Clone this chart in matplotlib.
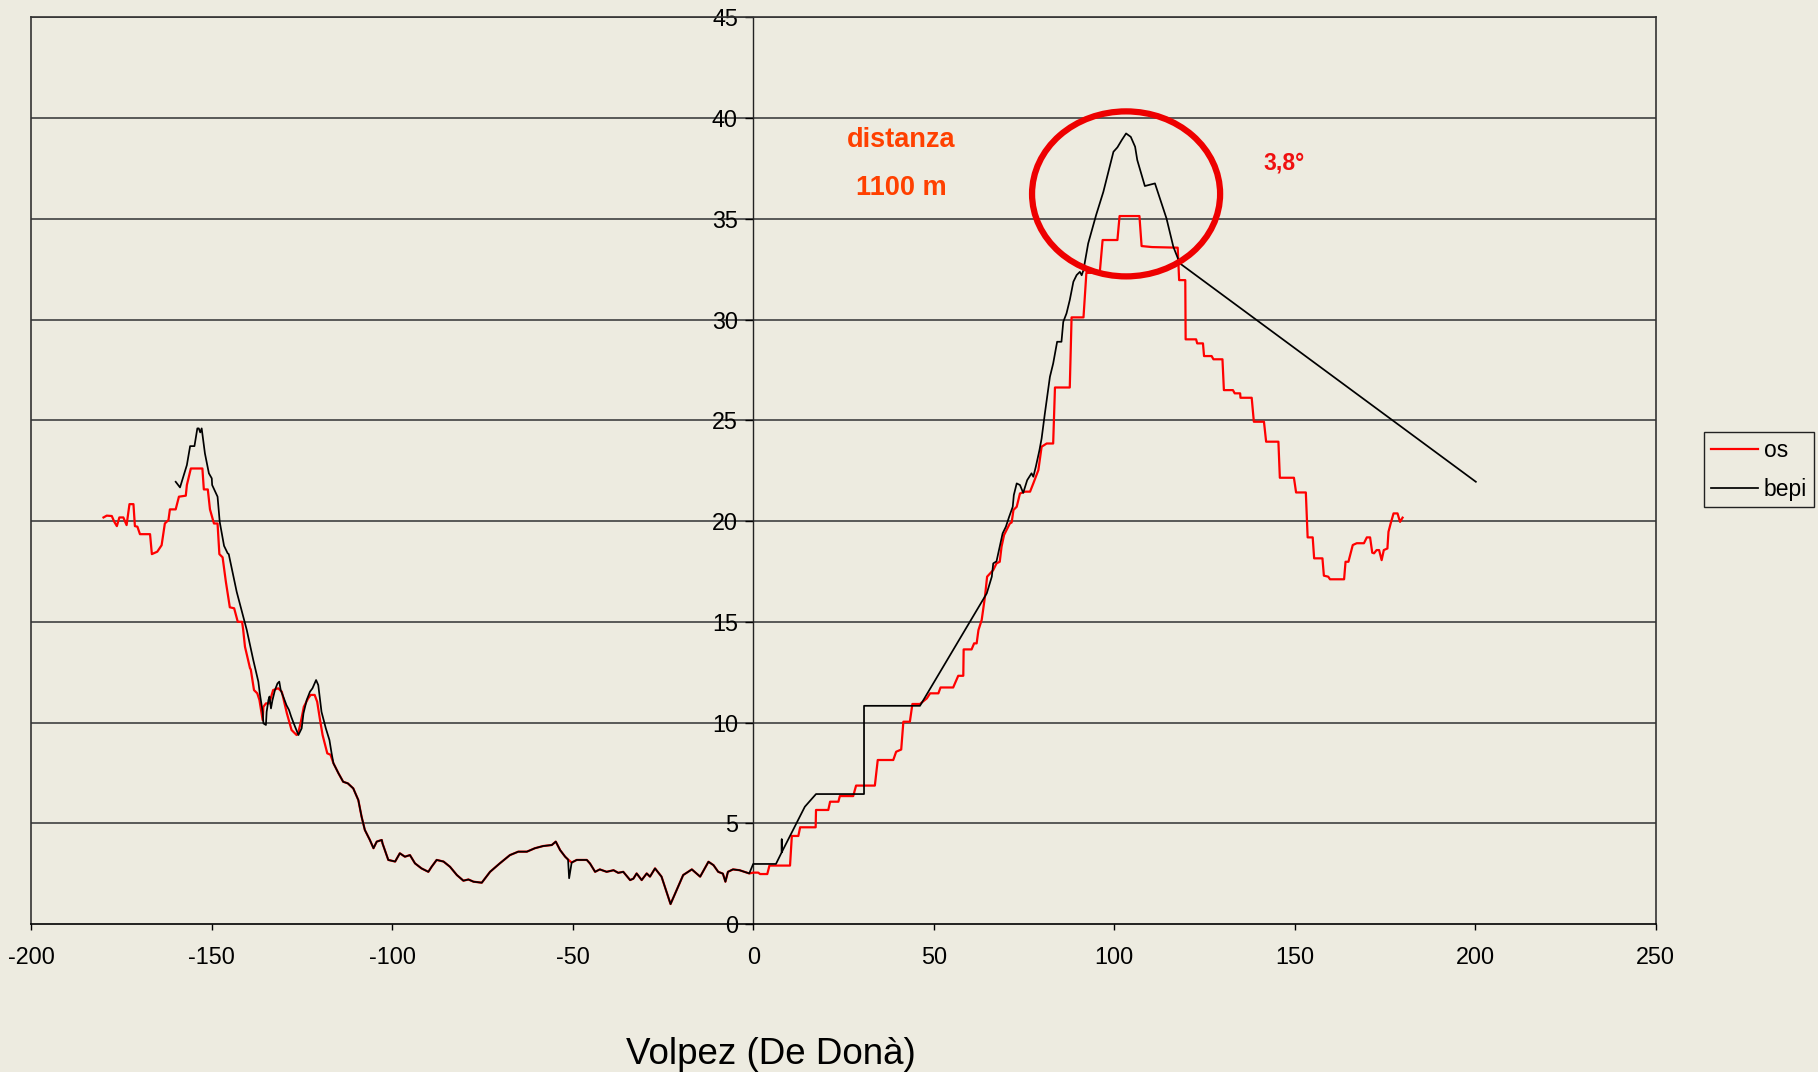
import numpy as np
import matplotlib
matplotlib.use("Agg")
import matplotlib.pyplot as plt
from matplotlib.patches import Ellipse

plt.rcParams['font.family'] = ['Liberation Sans', 'DejaVu Sans']
plt.rcParams['axes.unicode_minus'] = False

# ---------------- data ----------------
# "os" (red) - left hill
os_left_x = [-180.0, -179.1, -177.7, -177.0, -176.3, -175.6, -174.5, -173.6, -172.8, -171.7,
             -171.3, -170.6, -169.9, -167.1, -166.6, -165.1, -163.9, -163.0, -162.0, -161.6,
             -160.0, -159.1, -157.2, -156.9, -155.8, -152.6, -152.2, -151.1, -150.5, -149.4,
             -148.4, -147.9, -147.0, -146.1, -145.0, -143.8, -142.8, -141.6, -141.3, -140.8,
             -139.4, -139.2, -138.3, -137.4, -136.8, -135.9, -135.7, -135.0, -134.1, -133.0,
             -131.6, -130.6, -129.2, -127.9, -126.5, -126.1, -125.4, -124.5, -123.3, -122.6,
             -121.5, -120.8, -120.0, -119.3, -118.0, -117.1]
os_left_y = [20.18, 20.27, 20.25, 19.96, 19.75, 20.18, 20.18, 19.80, 20.84, 20.84,
             19.75, 19.72, 19.35, 19.35, 18.36, 18.48, 18.80, 19.88, 20.05, 20.58,
             20.58, 21.21, 21.26, 21.79, 22.61, 22.61, 21.57, 21.57, 20.58, 19.88,
             19.88, 18.36, 18.20, 16.99, 15.72, 15.67, 15.00, 15.00, 14.60, 13.76,
             12.69, 12.64, 11.61, 11.45, 11.12, 10.12, 10.78, 10.95, 10.95, 11.61,
             11.70, 11.53, 10.46, 9.63, 9.38, 9.46, 9.96, 10.78, 11.20, 11.37,
             11.37, 11.03, 10.12, 9.38, 8.47, 8.40]

# "bepi" (black) - left hill
bepi_left_x = [-160.0, -158.8, -157.9, -156.9, -156.0, -154.8, -154.0, -153.6, -153.2, -152.8,
               -151.9, -150.8, -150.0, -149.9, -148.4, -147.8, -146.6, -145.6, -145.3, -143.1,
               -140.3, -138.5, -137.1, -136.7, -135.9, -135.7, -135.0, -134.8, -134.3, -134.0,
               -133.6, -133.2, -132.5, -131.8, -131.3, -130.9, -130.2, -129.3, -128.6, -128.0,
               -127.3, -126.0, -125.1, -124.6, -123.7, -122.8, -122.1, -121.1, -120.5, -119.6,
               -118.4, -117.4, -116.8]
bepi_left_y = [21.95, 21.67, 22.20, 22.78, 23.72, 23.72, 24.60, 24.60, 24.40, 24.60,
               23.36, 22.37, 22.12, 21.79, 21.21, 19.96, 18.77, 18.40, 18.36, 16.49,
               14.59, 13.10, 12.03, 11.45, 10.53, 9.96, 9.88, 10.53, 11.12, 11.29,
               10.70, 11.10, 11.61, 11.94, 12.03, 11.61, 11.29, 10.86, 10.62, 10.29,
               9.96, 9.38, 9.71, 10.45, 11.12, 11.53, 11.70, 12.11, 11.86, 10.53,
               9.71, 9.13, 8.47]

# shared valley (both series nearly identical)
valley_x = [-116.3, -114.9, -113.6, -112.3, -110.8, -109.4, -108.5, -107.6, -106.2, -105.2,
            -104.3, -102.9, -102.7, -101.1, -99.2, -97.9, -96.5, -95.1, -93.7, -91.9,
            -90.0, -89.1, -87.7, -85.8, -84.0, -82.1, -80.3, -78.9, -77.5, -75.2,
            -72.9, -70.2, -67.4, -65.1, -62.7, -60.5, -58.2, -55.8, -54.7, -53.5,
            -52.1, -51.3]
valley_y = [7.98, 7.48, 7.06, 6.98, 6.73, 6.15, 5.33, 4.67, 4.17, 3.76,
            4.09, 4.17, 4.00, 3.18, 3.10, 3.51, 3.34, 3.42, 3.01, 2.76,
            2.59, 2.84, 3.18, 3.10, 2.84, 2.43, 2.15, 2.21, 2.10, 2.05,
            2.59, 3.01, 3.42, 3.59, 3.59, 3.76, 3.87, 3.92, 4.09, 3.67,
            3.34, 3.20]
valley2_x = [-50.3, -48.9, -46.1, -45.2, -43.8, -42.5, -40.6, -38.7, -37.4, -36.0,
             -34.1, -33.2, -32.3, -30.9, -29.5, -28.6, -27.2, -25.4, -22.9, -21.2,
             -19.4, -17.0, -14.7, -12.4, -11.0, -9.7, -8.4, -7.7, -7.0, -5.6,
             -3.8, -2.4, -1.1]
valley2_y = [3.05, 3.18, 3.18, 3.00, 2.59, 2.71, 2.59, 2.67, 2.54, 2.59,
             2.18, 2.25, 2.51, 2.18, 2.51, 2.35, 2.76, 2.35, 0.99, 1.69,
             2.43, 2.71, 2.35, 3.09, 2.92, 2.59, 2.50, 2.10, 2.59, 2.71,
             2.67, 2.59, 2.51]

# "os" (red) - right hill
os_right_x = [0.0, 1.4, 1.9, 3.9, 4.5, 10.2, 10.7, 12.5, 13.0, 17.3,
              17.4, 20.8, 21.3, 23.6, 24.0, 27.7, 28.5, 33.7, 34.5, 38.8,
              39.6, 41.0, 41.6, 43.4, 44.1, 46.2, 48.1, 49.0, 51.3, 51.9,
              55.4, 56.8, 58.2, 58.3, 60.5, 61.2, 61.9, 62.4, 63.3, 64.2,
              64.8, 66.5, 67.4, 68.3, 68.8, 69.5, 70.2, 71.1, 71.6, 72.1,
              73.0, 73.9, 75.3, 76.7, 77.6, 79.0, 79.9, 81.3, 83.1, 83.6,
              87.7, 88.2, 91.5, 92.3, 96.0, 96.8, 100.9, 101.5, 107.0, 107.6,
              110.5, 117.6, 118.0, 119.7, 119.8, 122.7, 123.0, 124.6, 124.9, 127.0,
              127.5, 130.0, 130.4, 132.9, 133.4, 134.9, 135.0, 138.1, 138.7, 141.5,
              142.1, 145.5, 145.9, 149.8, 150.4, 153.1, 153.6, 155.0, 155.4, 157.7,
              158.1, 159.3, 159.8, 163.7, 164.1, 164.9, 166.1, 167.2, 169.2, 170.0,
              170.9, 171.5, 172.0, 172.7, 173.4, 174.1, 174.7, 175.7, 176.0, 176.6,
              177.4, 178.5, 179.2, 179.9]
os_right_y = [2.55, 2.55, 2.48, 2.48, 2.90, 2.90, 4.37, 4.37, 4.80, 4.80,
              5.66, 5.66, 6.07, 6.07, 6.35, 6.35, 6.87, 6.87, 8.14, 8.14,
              8.55, 8.66, 10.04, 10.04, 10.92, 10.92, 11.20, 11.45, 11.45, 11.74,
              11.74, 12.32, 12.32, 13.63, 13.63, 13.93, 13.93, 14.59, 15.09, 16.24,
              17.24, 17.57, 17.90, 17.98, 18.73, 19.31, 19.56, 19.88, 19.93, 20.55,
              20.71, 21.37, 21.46, 21.46, 21.87, 22.53, 23.69, 23.85, 23.85, 26.63,
              26.63, 30.11, 30.11, 32.32, 32.32, 33.95, 33.95, 35.14, 35.14, 33.65,
              33.60, 33.57, 31.96, 31.96, 29.02, 29.02, 28.82, 28.82, 28.19, 28.19,
              28.03, 28.03, 26.50, 26.50, 26.34, 26.34, 26.12, 26.12, 24.93, 24.93,
              23.94, 23.94, 22.15, 22.15, 21.42, 21.42, 19.19, 19.19, 18.15, 18.15,
              17.29, 17.24, 17.11, 17.11, 17.98, 17.98, 18.81, 18.90, 18.90, 19.19,
              19.19, 18.43, 18.40, 18.56, 18.56, 18.06, 18.56, 18.64, 19.47, 19.88,
              20.38, 20.38, 19.96, 20.17]

# "bepi" (black) - right hill
bepi_right_x = [0.0, 6.3, 7.9, 7.9, 7.9, 14.3, 17.4, 30.7, 30.7, 46.2,
                64.7, 66.1, 66.5, 67.4, 68.4, 69.1, 70.0, 70.9, 71.9, 72.2,
                73.0, 73.9, 74.8, 75.9, 77.1, 77.6, 78.3, 79.3, 79.9, 80.8,
                82.2, 83.1, 84.2, 85.4, 85.9, 86.8, 87.7, 88.7, 89.6, 90.5,
                91.0, 91.5, 92.8, 95.0, 97.0, 99.8, 100.9, 102.1, 103.3, 104.6,
                105.8, 106.4, 108.5, 111.3, 114.5, 116.4, 118.2, 200.2]
bepi_right_y = [2.98, 2.98, 3.56, 4.20, 3.56, 5.82, 6.45, 6.45, 10.83, 10.83,
                16.41, 17.24, 17.90, 18.00, 18.81, 19.39, 19.72, 20.21, 20.71, 21.29,
                21.87, 21.79, 21.40, 22.03, 22.37, 22.20, 22.70, 23.52, 24.10, 25.34,
                27.16, 27.82, 28.90, 28.90, 29.89, 30.31, 30.97, 31.88, 32.21, 32.37,
                32.20, 32.46, 33.78, 35.19, 36.34, 38.33, 38.55, 38.91, 39.24, 39.07,
                38.58, 37.92, 36.63, 36.76, 35.02, 33.61, 32.79, 21.95]

# isolated small stub of "bepi" near -51
bepi_stub_x = [-51.0, -50.3]
bepi_stub_y = [2.27, 3.05]

series_labels = ["os", "bepi"]
x_ticks = [-200, -150, -100, -50, 0, 50, 100, 150, 200, 250]
y_ticks = [0, 5, 10, 15, 20, 25, 30, 35, 40, 45]

# ---------------- build series ----------------
os_x = os_left_x + valley_x + valley2_x + os_right_x
os_y = os_left_y + valley_y + valley2_y + os_right_y
bepi_x = bepi_left_x + valley_x + bepi_stub_x + valley2_x + bepi_right_x
bepi_y = bepi_left_y + valley_y + bepi_stub_y + valley2_y + bepi_right_y

# ---------------- figure ----------------
bg = '#EDEBE0'
fig = plt.figure(figsize=(18.18, 10.72), dpi=100, facecolor=bg)
ax = fig.add_axes([31.3 / 1818, 1 - 924 / 1072, (1655.6 - 31.3) / 1818, (924 - 17.4) / 1072])
ax.set_facecolor(bg)

ax.set_xlim(-200, 250)
ax.set_ylim(0, 45)

# horizontal gridlines
for yv in y_ticks[1:]:
    ax.axhline(yv, color='#4d4d4d', lw=1.3, zorder=1)

l_os, = ax.plot(os_x, os_y, color='#FF0000', lw=1.6, zorder=3, label=series_labels[0])
l_bepi, = ax.plot(bepi_x, bepi_y, color='#000000', lw=1.25, zorder=4, label=series_labels[1])

# spines
ax.spines['left'].set_position(('data', 0))
ax.spines['left'].set_color('#222222')
ax.spines['left'].set_linewidth(1.0)
for s in ['top', 'right', 'bottom']:
    ax.spines[s].set_color('#333333')
    ax.spines[s].set_linewidth(1.2)
ax.spines['bottom'].set_color('#000000')
ax.axvline(-200, color='#333333', lw=1.2, clip_on=False, zorder=2)

ax.set_xticks(x_ticks)
ax.set_xticklabels([str(v) for v in x_ticks])
ax.set_yticks(y_ticks)
ax.set_yticklabels([str(v) for v in y_ticks])
ax.tick_params(axis='x', direction='out', length=4, width=1, pad=12, labelsize=16.8, colors='black')
ax.tick_params(axis='y', direction='out', length=5.5, width=1, pad=5.5, labelsize=16.8, colors='black')

# annotations
ax.text(40.9, 38.9, 'distanza', color='#FF4000', fontsize=19.5, fontweight='bold',
        ha='center', va='center', zorder=6)
ax.text(40.9, 36.55, '1100 m', color='#FF4000', fontsize=19.5, fontweight='bold',
        ha='center', va='center', zorder=6)
ax.text(147.0, 37.77, '3,8°', color='#F01010', fontsize=16.5, fontweight='bold',
        ha='center', va='center', zorder=6)

ell = Ellipse((103.3, 36.24), width=52.1, height=8.19, fill=False,
              edgecolor='#EE0000', lw=4.5, zorder=5)
ax.add_patch(ell)

# title at bottom
fig.text(771 / 1818, 1 - 1055 / 1072, 'Volpez (De Donà)', fontsize=26.5,
         ha='center', va='center', color='black')

# legend
leg = ax.legend(handles=[l_os, l_bepi], loc='upper left',
                bbox_to_anchor=(1704 / 1818, 1 - 431.7 / 1072),
                bbox_transform=fig.transFigure, borderaxespad=0,
                frameon=True, fancybox=False, edgecolor='#222222', facecolor=bg,
                framealpha=1, fontsize=16.5, handlelength=2.05, handletextpad=0.25,
                labelspacing=0.7, borderpad=0.3)
leg.get_frame().set_linewidth(1.0)

fig.savefig('out.png', dpi=100, facecolor=bg)
